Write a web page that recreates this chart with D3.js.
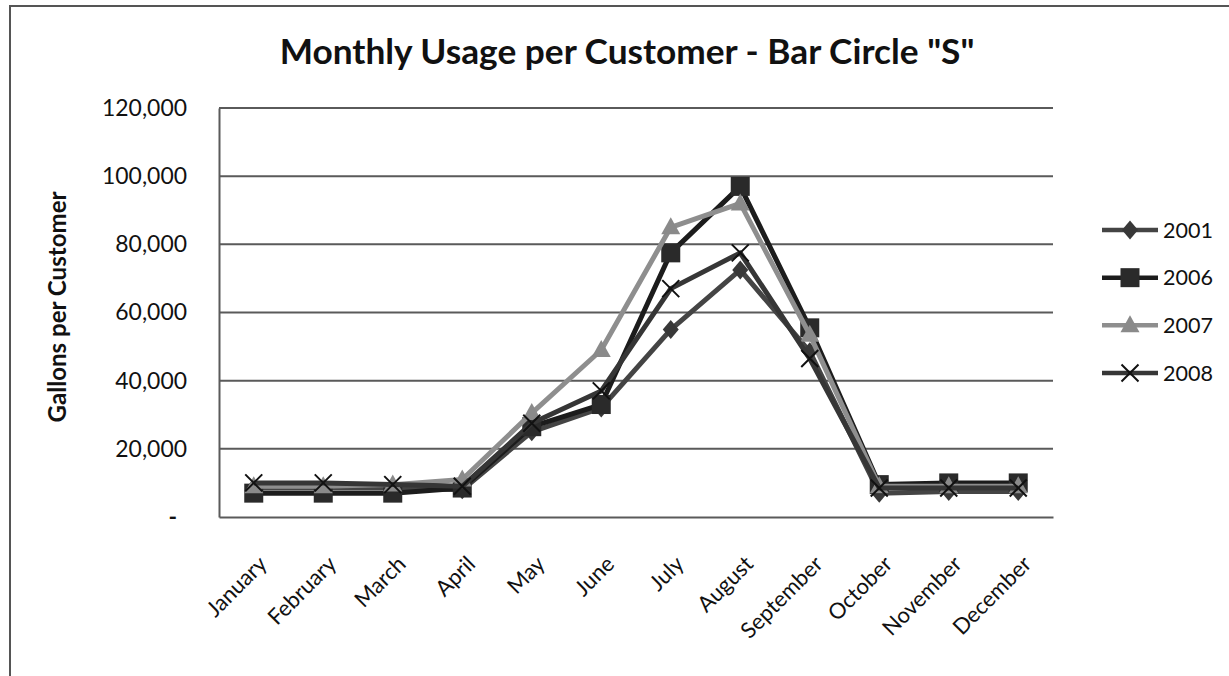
<!DOCTYPE html>
<html>
<head>
<meta charset="utf-8">
<script src="https://cdn.jsdelivr.net/npm/d3@7"></script>
<style>
  html, body { margin: 0; padding: 0; background: #fff; }
  svg { display: block; font-family: Lato, "Open Sans", sans-serif; }
</style>
</head>
<body>
<svg id="chart" width="1229" height="676"></svg>
<script>
// ---------- data ----------
const months = ["January","February","March","April","May","June","July","August","September","October","November","December"];
const years = ["2001","2006","2007","2008"];
const s2001 = [8500, 8500, 8500, 8000, 25000, 32000, 55000, 72500, 48500, 7000, 7500, 7500];
const s2006 = [7000, 7000, 7000, 8500, 26500, 33000, 77500, 97000, 55500, 9500, 10000, 10000];
const s2007 = [9000, 9000, 9500, 11000, 30500, 49000, 85000, 92000, 53500, 9000, 9000, 9000];
const s2008 = [10000, 10000, 9500, 9000, 27500, 37000, 67000, 77500, 46500, 8500, 8500, 8500];
const yTicks = [0, 20000, 40000, 60000, 80000, 100000, 120000];
const titleText = 'Monthly Usage per Customer - Bar Circle "S"';
const yTitle = "Gallons per Customer";

const seriesValues = [s2001, s2006, s2007, s2008];
const seriesStyle = [
  { color: "#444444", marker: "diamond", mfill: "#383838" },
  { color: "#1c1c1c", marker: "square",  mfill: "#2a2a2a" },
  { color: "#8e8e8e", marker: "triangle", mfill: "#8a8a8a" },
  { color: "#363636", marker: "x",       mfill: "#111" }
];

// ---------- layout ----------
const svg = d3.select("#chart");
const plot = { left: 219, right: 1053, top: 108, bottom: 517 };

// fit a text element's font size so its rendered width matches a target
function fitWidth(sel, target) {
  sel.each(function () {
    const fs = parseFloat(this.getAttribute("font-size"));
    const w = this.getComputedTextLength();
    if (w > 0) this.setAttribute("font-size", (fs * target / w).toFixed(2));
  });
}

svg.append("rect").attr("width", 1229).attr("height", 676).attr("fill", "#fff");
svg.append("rect").attr("x", 10).attr("y", 6).attr("width", 1300).attr("height", 800)
  .attr("fill", "none").attr("stroke", "#555").attr("stroke-width", 2);

const x = d3.scaleBand().domain(months).range([plot.left, plot.right]).padding(0);
const y = d3.scaleLinear().domain([0, 120000]).range([plot.bottom, plot.top]);
const cx = m => x(m) + x.bandwidth() / 2;

// gridlines
svg.append("g").selectAll("line").data(yTicks.filter(t => t > 0)).join("line")
  .attr("x1", plot.left).attr("x2", plot.right)
  .attr("y1", d => y(d)).attr("y2", d => y(d))
  .attr("stroke", "#5a5a5a").attr("stroke-width", 2);

// y axis
const yAxis = d3.axisLeft(y).tickValues(yTicks).tickSize(0).tickPadding(32)
  .tickFormat(d => d === 0 ? "-" : d3.format(",")(d));
const gy = svg.append("g").attr("transform", `translate(${plot.left},0)`).call(yAxis);
gy.select(".domain").attr("stroke", "#5a5a5a").attr("stroke-width", 2);
gy.selectAll("text").attr("font-size", 24).attr("fill", "#111").attr("font-family", "Lato");
// size so that "100,000" is ~85px wide
const refTick = gy.selectAll(".tick").filter(d => d === 100000).select("text");
const tickFs = 24 * 85 / refTick.node().getComputedTextLength();
gy.selectAll("text").attr("font-size", tickFs.toFixed(2));
gy.selectAll(".tick").filter(d => d === 0).select("text").attr("dx", -10).attr("font-weight", 700);

// x axis
const xAxis = d3.axisBottom(x).tickSize(0).tickPadding(0);
const gx = svg.append("g").attr("transform", `translate(0,${plot.bottom})`).call(xAxis);
gx.select(".domain").attr("stroke", "#5a5a5a").attr("stroke-width", 2);
gx.selectAll(".tick text")
  .attr("font-size", 22).attr("fill", "#111").attr("font-family", "Lato")
  .attr("text-anchor", "end").attr("dy", "0.35em").attr("y", 0)
  .attr("transform", "translate(9,43) rotate(-45)");

// title
const title = svg.append("text").attr("x", 627).attr("y", 64).attr("text-anchor", "middle")
  .attr("font-size", 30).attr("font-weight", 700).attr("fill", "#111").text(titleText);
fitWidth(title, 695);

// y title
const yt = svg.append("text").attr("transform", "translate(66,307) rotate(-90)")
  .attr("text-anchor", "middle").attr("font-size", 22).attr("font-weight", 700)
  .attr("fill", "#111").text(yTitle);
fitWidth(yt, 231);

// markers
function drawMarker(g, type, px, py, st) {
  if (type === "diamond") {
    g.append("path").attr("d", `M${px},${py-9.5}L${px+8},${py}L${px},${py+9.5}L${px-8},${py}Z`)
      .attr("fill", st.mfill);
  } else if (type === "square") {
    g.append("rect").attr("x", px - 9.5).attr("y", py - 9.5).attr("width", 19).attr("height", 19)
      .attr("fill", st.mfill);
  } else if (type === "triangle") {
    g.append("path").attr("d", `M${px},${py-10}L${px+9.5},${py+7}L${px-9.5},${py+7}Z`)
      .attr("fill", st.mfill);
  } else {
    g.append("path").attr("d", `M${px-8.5},${py-8.5}L${px+8.5},${py+8.5}M${px+8.5},${py-8.5}L${px-8.5},${py+8.5}`)
      .attr("stroke", st.mfill).attr("stroke-width", 2).attr("fill", "none");
  }
}

const line = d3.line().x((d, i) => cx(months[i])).y(d => y(d));
seriesValues.forEach((vals, si) => {
  const st = seriesStyle[si];
  const g = svg.append("g");
  g.append("path").datum(vals).attr("d", line).attr("fill", "none")
    .attr("stroke", st.color).attr("stroke-width", 5).attr("stroke-linejoin", "round");
  vals.forEach((v, i) => drawMarker(g, st.marker, cx(months[i]), y(v), st));
});

// legend
const legY = d3.scalePoint().domain(years).range([230, 373]);
years.forEach((yr, si) => {
  const st = seriesStyle[si];
  const g = svg.append("g");
  const ly = legY(yr);
  g.append("line").attr("x1", 1102).attr("x2", 1158).attr("y1", ly).attr("y2", ly)
    .attr("stroke", st.color).attr("stroke-width", 4.5);
  drawMarker(g, st.marker, 1130, ly, st);
  const t = g.append("text").attr("x", 1163).attr("y", ly).attr("dy", "0.35em")
    .attr("font-size", 22).attr("fill", "#111").text(yr);
  fitWidth(t, 50);
});
</script>
</body>
</html>
